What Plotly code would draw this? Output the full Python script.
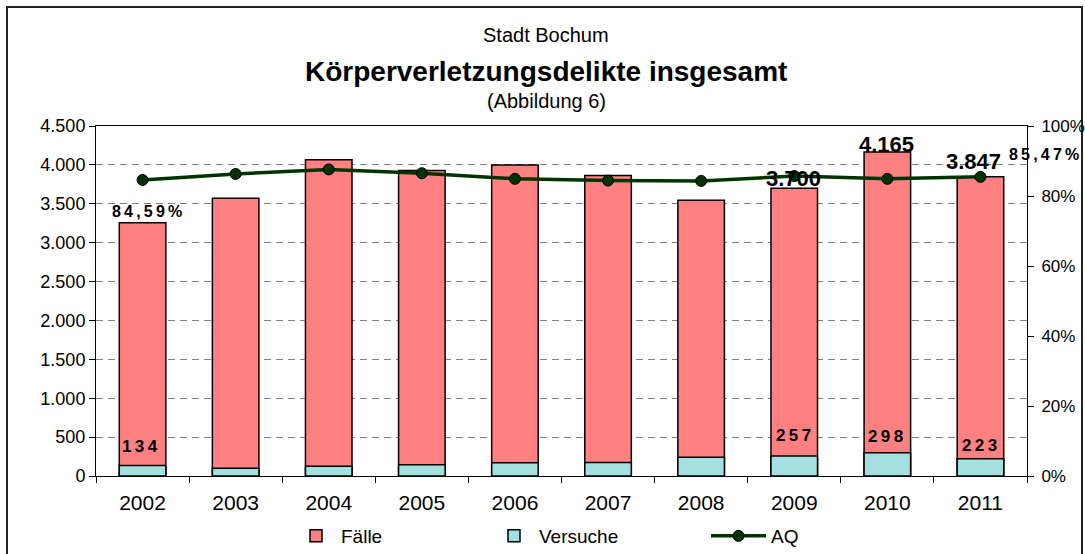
import plotly.graph_objects as go

# ---------------- data ----------------
years = ["2002", "2003", "2004", "2005", "2006", "2007", "2008", "2009", "2010", "2011"]
faelle = [3255, 3570, 4065, 3928, 4000, 3864, 3546, 3700, 4165, 3847]
versuche = [134, 100, 125, 145, 170, 175, 240, 257, 298, 223]
aq_pct = [84.59, 86.3, 87.6, 86.5, 84.9, 84.4, 84.3, 85.7, 84.9, 85.47]

left_ticks = [0, 500, 1000, 1500, 2000, 2500, 3000, 3500, 4000, 4500]
right_ticks = [0, 0.2, 0.4, 0.6, 0.8, 1.0]

title_top = "Stadt Bochum"
title_main = "Körperverletzungsdelikte insgesamt"
title_sub = "(Abbildung 6)"

FONT = "Liberation Sans, Arial, sans-serif"
C_FAELLE = "#FF8080"
C_VERS = "#A3E0DF"
C_AQ = "#003300"

aq = [v / 100 for v in aq_pct]
xpos = list(range(len(years)))


def thousands(v):
    return f"{v:,}".replace(",", ".")


def pct(v):
    return f"{v:.2f}".replace(".", ",") + "%"


def spaced(s):
    return "\u2009".join(s)


fig = go.Figure()
fig.add_trace(go.Bar(
    x=xpos, y=faelle, name="Fälle", marker=dict(color=C_FAELLE, line=dict(color="black", width=1.5)),
    width=0.5, legend="legend", yaxis="y", hovertext=years,
))
fig.add_trace(go.Bar(
    x=xpos, y=versuche, name="Versuche", marker=dict(color=C_VERS, line=dict(color="black", width=1.5)),
    width=0.5, legend="legend2", yaxis="y", hovertext=years,
))
fig.add_trace(go.Scatter(
    x=xpos, y=aq, name="AQ", mode="lines+markers", yaxis="y2",
    line=dict(color=C_AQ, width=3.5),
    marker=dict(size=11, color=C_AQ, line=dict(color="black", width=1)),
    legend="legend3", hovertext=years,
))

ann = []
# AQ labels
for i, xs, ys in [(0, 4, -32), (9, 64, 22)]:
    ann.append(dict(x=xpos[i], y=aq[i], xref="x", yref="y2", text=spaced(pct(aq_pct[i])),
                    showarrow=False, xshift=xs, yshift=ys,
                    font=dict(family=FONT, size=16, color="black", weight="bold")))
# Versuche labels
for i, xs, ys in [(0, -3, 19), (7, -1, 21), (8, -2, 16), (9, -1, 13)]:
    ann.append(dict(x=xpos[i], y=versuche[i], xref="x", yref="y", text=spaced(str(versuche[i])),
                    showarrow=False, xshift=xs, yshift=ys,
                    font=dict(family=FONT, size=17, color="black", weight="bold")))
# Total labels
for i, xs, ys in [(7, -1, 10), (8, -1, 8), (9, -7, 15)]:
    ann.append(dict(x=xpos[i], y=faelle[i], xref="x", yref="y", text=thousands(faelle[i]),
                    showarrow=False, xshift=xs, yshift=ys,
                    font=dict(family=FONT, size=22, color="black", weight="bold")))

L, R, T, B = 96, 58, 126, 78
W, H = 1085, 554
pw, ph = W - L - R, H - T - B


def px_x(x):
    return (x - L) / pw


def px_y(y):
    return (H - B - y) / ph


for txt, ypx, size, bold in [(title_top, 35, 20, False), (title_main, 72, 28, True), (title_sub, 101, 20, False)]:
    ann.append(dict(x=px_x(546), y=px_y(ypx), xref="paper", yref="paper", text=txt, showarrow=False,
                    xanchor="center", yanchor="middle",
                    font=dict(family=FONT, size=size, color="black", weight="bold" if bold else "normal")))

legend_common = dict(yanchor="middle", xanchor="left", orientation="h", bgcolor="rgba(0,0,0,0)",
                     font=dict(size=19, family=FONT, color="black"))

fig.update_layout(
    width=W, height=H,
    margin=dict(l=L, r=R, t=T, b=B, autoexpand=False),
    paper_bgcolor="white", plot_bgcolor="white",
    barmode="overlay",
    showlegend=True,
    separators=",.",
    font=dict(family=FONT, size=16, color="black"),
    annotations=ann,
    xaxis=dict(
        type="linear", range=[-0.5, len(years) - 0.5],
        tickvals=xpos, ticktext=years, ticks="", tickangle=0, ticklabelstandoff=8,
        showline=True, linecolor="black", linewidth=1, mirror=True,
        minor=dict(tick0=-0.5, dtick=1, ticks="outside", ticklen=6, tickcolor="black", showgrid=False),
        showgrid=False, zeroline=False, tickfont=dict(size=21, family=FONT, color="black"),
    ),
    yaxis=dict(
        range=[0, 4500], tickvals=left_ticks, tickformat=",d",
        showline=True, linecolor="black", linewidth=1,
        ticks="outside", ticklen=6, tickcolor="black",
        showgrid=True, gridcolor="#7f7f7f", gridwidth=1, griddash="7px,5px",
        zeroline=False, tickfont=dict(size=18, family=FONT, color="black"),
    ),
    yaxis2=dict(
        range=[0, 1], tickvals=right_ticks, tickformat=".0%", overlaying="y", side="right",
        showline=True, linecolor="black", linewidth=1,
        ticks="outside", ticklen=6, tickcolor="black", ticklabelstandoff=4,
        showgrid=False, zeroline=False, tickfont=dict(size=17, family=FONT, color="black"),
    ),
    legend=dict(x=px_x(291), y=px_y(536), itemwidth=40, **legend_common),
    legend2=dict(x=px_x(489), y=px_y(536), itemwidth=40, **legend_common),
    legend3=dict(x=px_x(706), y=px_y(536), itemwidth=55, **legend_common),
    shapes=[dict(type="rect", xref="paper", yref="paper", x0=px_x(7), x1=px_x(1082), y0=px_y(7), y1=px_y(600),
                 line=dict(color="#222222", width=2), fillcolor="rgba(0,0,0,0)", layer="below")],
)

fig.write_html("out.html", config={"displayModeBar": False},
               post_script="document.body.style.margin='0px';")
